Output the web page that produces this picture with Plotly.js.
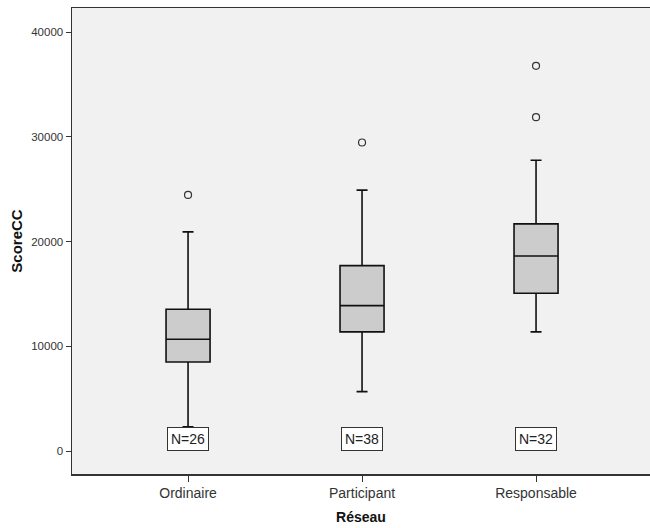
<!DOCTYPE html>
<html>
<head>
<meta charset="utf-8">
<script src="https://cdn.plot.ly/plotly-3.0.1.min.js"></script>
<style>body{margin:0;padding:0;background:#fff;}#chart{width:650px;height:528px;}</style>
</head>
<body>
<div id="chart"></div>
<script>
const categories = ["Ordinaire", "Participant", "Responsable"];
const lowerWhisker = [2320, 5670, 11370];
const q1Values = [8500, 11370, 15060];
const medianValues = [10670, 13880, 18620];
const q3Values = [13530, 17700, 21680];
const upperWhisker = [20920, 24900, 27760];
const outlierCats = ["Ordinaire", "Participant", "Responsable", "Responsable"];
const outlierValues = [24450, 29450, 36770, 31870];
const nLabels = ["N=26", "N=38", "N=32"];
const nLabelY = 1100;
const yTicks = [0, 10000, 20000, 30000, 40000];

const traces = [
  {
    type: "box",
    x: categories,
    q1: q1Values,
    median: medianValues,
    q3: q3Values,
    lowerfence: lowerWhisker,
    upperfence: upperWhisker,
    fillcolor: "#cccccc",
    line: {color: "#111111", width: 1.6},
    whiskerwidth: 0.25,
    width: 0.253,
    boxpoints: false,
    hoverinfo: "skip",
    showlegend: false
  },
  {
    type: "scatter",
    mode: "markers",
    x: outlierCats,
    y: outlierValues,
    marker: {symbol: "circle-open", size: 7, color: "#333333", line: {width: 1.2}},
    hoverinfo: "skip",
    showlegend: false
  }
];

const annotations = categories.map((c, i) => ({
  x: c, y: nLabelY, xref: "x", yref: "y",
  text: nLabels[i], showarrow: false,
  font: {family: "Liberation Sans, Arial, sans-serif", size: 14, color: "#222"},
  bgcolor: "#ffffff", bordercolor: "#333333", borderwidth: 1, borderpad: 3
}));

const layout = {
  width: 650, height: 528,
  margin: {l: 72, r: 0, t: 8, b: 54},
  paper_bgcolor: "#ffffff",
  plot_bgcolor: "#f1f1f1",
  font: {family: "Liberation Sans, Arial, sans-serif", color: "#111"},
  xaxis: {
    type: "category",
    range: [-0.667, 2.655],
    showgrid: false, zeroline: false,
    showline: true, linecolor: "#333333", linewidth: 1.5, mirror: true,
    ticks: "outside", ticklen: 6, tickcolor: "#333",
    tickfont: {size: 14, color: "#333"},
    title: {text: "<b>Réseau</b>", font: {size: 14, color: "#111"}, standoff: 12}
  },
  yaxis: {
    range: [-2196, 42291],
    tickvals: yTicks,
    ticktext: yTicks.map(String),
    showgrid: false, zeroline: false,
    showline: true, linecolor: "#333333", linewidth: 1.5,
    ticks: "outside", ticklen: 5, tickcolor: "#333",
    tickfont: {size: 11.5, color: "#333"},
    title: {text: "<b>ScoreCC</b>", font: {size: 15, color: "#111"}, standoff: 5}
  },
  annotations: annotations
};

Plotly.newPlot("chart", traces, layout, {displayModeBar: false, staticPlot: true});
</script>
</body>
</html>
